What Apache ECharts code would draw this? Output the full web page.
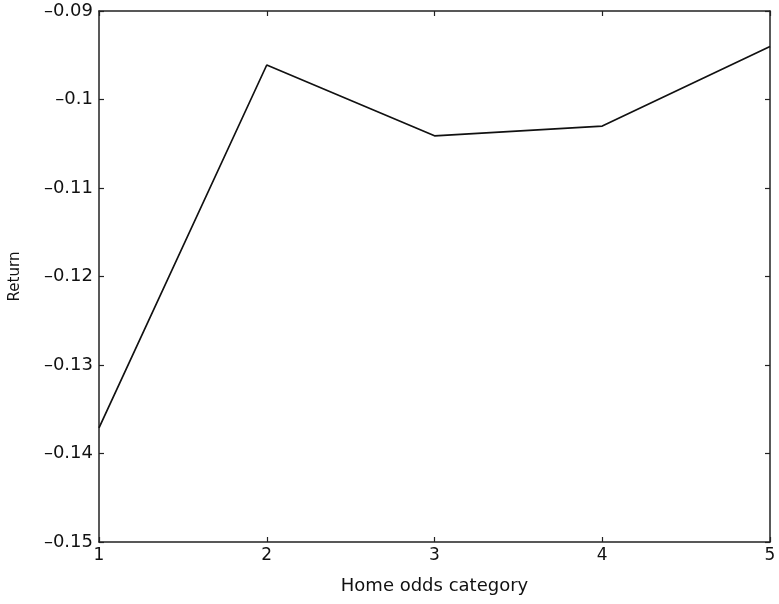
<!DOCTYPE html>
<html>
<head>
<meta charset="utf-8">
<script src="https://cdn.jsdelivr.net/npm/echarts@6/dist/echarts.min.js"></script>
<style>html,body{margin:0;padding:0;background:#fff;}#c{width:779px;height:604px;}</style>
</head>
<body>
<div id="c"></div>
<script>
var categories = [1, 2, 3, 4, 5];
var returns = [-0.1371, -0.0961, -0.1041, -0.1030, -0.0940];
var yTicks = [-0.15, -0.14, -0.13, -0.12, -0.11, -0.1, -0.09];

var chart = echarts.init(document.getElementById('c'));
var font = 'DejaVu Sans, sans-serif';
function fmtY(v){ return parseFloat(v.toFixed(2)).toString().replace('-', '\u2013'); }
var axisLine = {show:true, lineStyle:{color:'#222', width:1.5}};
var ticks = {show:true, inside:true, length:5, lineStyle:{color:'#222', width:1.2}};
chart.setOption({
  animation:false,
  backgroundColor:'#fff',
  grid:{left:95, right:9, top:11, bottom:62, containLabel:false},
  xAxis:[{
    type:'value', min:1, max:5, interval:1, position:'bottom',
    name:'Home odds category', nameLocation:'middle', nameGap:35,
    nameTextStyle:{fontFamily:font, fontSize:18, color:'#111'},
    axisLine:axisLine, axisTick:ticks, splitLine:{show:false},
    axisLabel:{fontFamily:font, fontSize:17, color:'#111', margin:5}
  },{
    type:'value', min:1, max:5, interval:1, position:'top',
    axisLine:axisLine, axisTick:ticks, splitLine:{show:false}, axisLabel:{show:false}
  }],
  yAxis:[{
    type:'value', min:yTicks[0], max:yTicks[yTicks.length-1], interval:0.01, position:'left',
    name:'Return', nameLocation:'middle', nameGap:76, nameRotate:90,
    nameTextStyle:{fontFamily:font, fontSize:15, color:'#111'},
    axisLine:axisLine, axisTick:ticks, splitLine:{show:false},
    axisLabel:{fontFamily:font, fontSize:18, color:'#111', margin:6, formatter:fmtY}
  },{
    type:'value', min:yTicks[0], max:yTicks[yTicks.length-1], interval:0.01, position:'right',
    axisLine:axisLine, axisTick:ticks, splitLine:{show:false}, axisLabel:{show:false}
  }],
  series:[{
    type:'line', xAxisIndex:0, yAxisIndex:0,
    data:categories.map(function(c,i){return [c, returns[i]];}),
    symbol:'none', lineStyle:{color:'#111', width:1.7}
  }]
});
</script>
</body>
</html>
